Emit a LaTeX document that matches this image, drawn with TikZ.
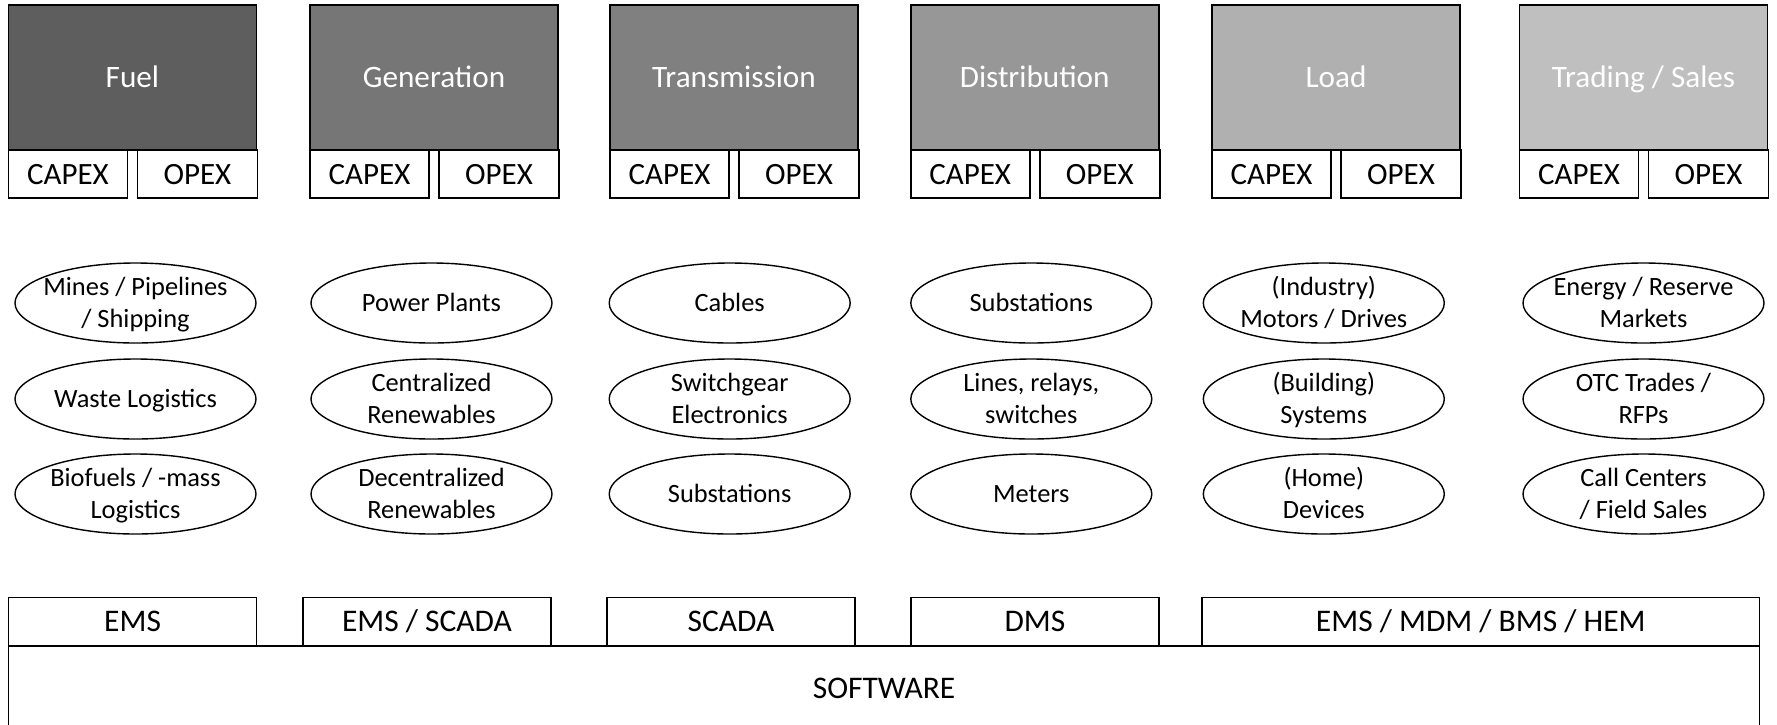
\documentclass[tikz,border=0pt]{standalone}
\usepackage{fontspec}
\setmainfont{Carlito}
\usetikzlibrary{shapes.geometric}
\definecolor{cfuel}{RGB}{94,94,94}
\definecolor{cgen}{RGB}{118,118,118}
\definecolor{ctra}{RGB}{128,128,128}
\definecolor{cdis}{RGB}{151,151,151}
\definecolor{cload}{RGB}{176,176,176}
\definecolor{ctrad}{RGB}{191,191,191}
\newcommand{\es}{\rule[-0.25em]{0pt}{1.15em}}
\begin{document}
\begin{tikzpicture}[x=1pt,y=-1pt,
  hdr/.style={draw=black, line width=1.6pt, minimum width=248pt, minimum height=145pt, inner sep=0pt, text=white, font=\fontsize{31.2}{37}\selectfont, execute at begin node=\es},
  cost/.style={draw=black, fill=white, line width=1.6pt, minimum height=48pt, inner sep=0pt, font=\fontsize{31}{37}\selectfont, execute at begin node=\es},
  capbox/.style={cost, minimum width=119pt},
  opbox/.style={cost, minimum width=120pt},
  ell/.style={draw=black, ellipse, line width=1.4pt, minimum width=241pt, minimum height=80pt, inner sep=0pt},
  etext/.style={align=center, inner sep=0pt, font=\fontsize{26.4}{31.7}\selectfont},
  tabbox/.style={draw=black, fill=white, line width=1.6pt, minimum height=48.4pt, minimum width=248pt, inner sep=0pt, font=\fontsize{31.5}{37}\selectfont, execute at begin node=\es},
]
\useasboundingbox (0,0) rectangle (1777,724);
\fill[white] (0,0) rectangle (1777,724);

% header boxes
\node[hdr, fill=cfuel] (hfuel) at (132.4,77.5) {Fuel};
\node[capbox] (capfuel) at (67.9,174) {CAPEX};
\node[opbox] (opfuel) at (197.4,174) {OPEX};

\node[hdr, fill=cgen] (hgen) at (434,77.5) {Generation};
\node[capbox] (capgen) at (369.5,174) {CAPEX};
\node[opbox] (opgen) at (499,174) {OPEX};

\node[hdr, fill=ctra] (htra) at (734,77.5) {Transmission};
\node[capbox] (captra) at (669.5,174) {CAPEX};
\node[opbox] (optra) at (799,174) {OPEX};

\node[hdr, fill=cdis] (hdis) at (1034.7,77.5) {Distribution};
\node[capbox] (capdis) at (970.2,174) {CAPEX};
\node[opbox] (opdis) at (1099.7,174) {OPEX};

\node[hdr, fill=cload] (hload) at (1336,77.5) {Load};
\node[capbox] (capload) at (1271.5,174) {CAPEX};
\node[opbox] (opload) at (1401,174) {OPEX};

\node[hdr, fill=ctrad] (htrad) at (1643.5,77.5) {Trading / Sales};
\node[capbox] (captrad) at (1579,174) {CAPEX};
\node[opbox] (optrad) at (1708.5,174) {OPEX};

% ellipses column 1
\node[ell] (e11) at (135.5,303) {};
\node[etext] (t11) at (e11.center) {\es Mines / Pipelines\\\es / Shipping};
\node[ell] (e12) at (135.5,399) {};
\node[etext] (t12) at (e12.center) {\es Waste Logistics};
\node[ell] (e13) at (135.5,494) {};
\node[etext] (t13) at (e13.center) {\es Biofuels / -mass\\\es Logistics};
% column 2
\node[ell] (e21) at (431.5,303) {};
\node[etext] (t21) at (e21.center) {\es Power Plants};
\node[ell] (e22) at (431.5,399) {};
\node[etext] (t22) at (e22.center) {\es Centralized\\\es Renewables};
\node[ell] (e23) at (431.5,494) {};
\node[etext] (t23) at (e23.center) {\es Decentralized\\\es Renewables};
% column 3
\node[ell] (e31) at (729.7,303) {};
\node[etext] (t31) at (e31.center) {\es Cables};
\node[ell] (e32) at (729.7,399) {};
\node[etext] (t32) at (e32.center) {\es Switchgear\\\es Electronics};
\node[ell] (e33) at (729.7,494) {};
\node[etext] (t33) at (e33.center) {\es Substations};
% column 4
\node[ell] (e41) at (1031.3,303) {};
\node[etext] (t41) at (e41.center) {\es Substations};
\node[ell] (e42) at (1031.3,399) {};
\node[etext] (t42) at (e42.center) {\es Lines, relays,\\\es switches};
\node[ell] (e43) at (1031.3,494) {};
\node[etext] (t43) at (e43.center) {\es Meters};
% column 5
\node[ell] (e51) at (1323.8,303) {};
\node[etext] (t51) at (e51.center) {\es (Industry)\\\es Motors / Drives};
\node[ell] (e52) at (1323.8,399) {};
\node[etext] (t52) at (e52.center) {\es (Building)\\\es Systems};
\node[ell] (e53) at (1323.8,494) {};
\node[etext] (t53) at (e53.center) {\es (Home)\\\es Devices};
% column 6
\node[ell] (e61) at (1643.5,303) {};
\node[etext] (t61) at (e61.center) {\es Energy / Reserve\\\es Markets};
\node[ell] (e62) at (1643.5,399) {};
\node[etext] (t62) at (e62.center) {\es OTC Trades /\\\es RFPs};
\node[ell] (e63) at (1643.5,494) {};
\node[etext] (t63) at (e63.center) {\es Call Centers\\\es / Field Sales};

% software tabs
\node[tabbox] (sw1) at (132.6,621.5) {EMS};
\node[tabbox] (sw2) at (427,621.5) {EMS / SCADA};
\node[tabbox] (sw3) at (731,621.5) {SCADA};
\node[tabbox] (sw4) at (1035,621.5) {DMS};
\node[tabbox, minimum width=557.6pt] (sw5) at (1480.8,621.5) {EMS / MDM / BMS / HEM};
\node[draw=black, line width=1.6pt, minimum width=1751pt, minimum height=84.3pt, inner sep=0pt, font=\fontsize{31.5}{37}\selectfont, execute at begin node=\es] (sw) at (884.1,687.85) {SOFTWARE};
\end{tikzpicture}
\end{document}
